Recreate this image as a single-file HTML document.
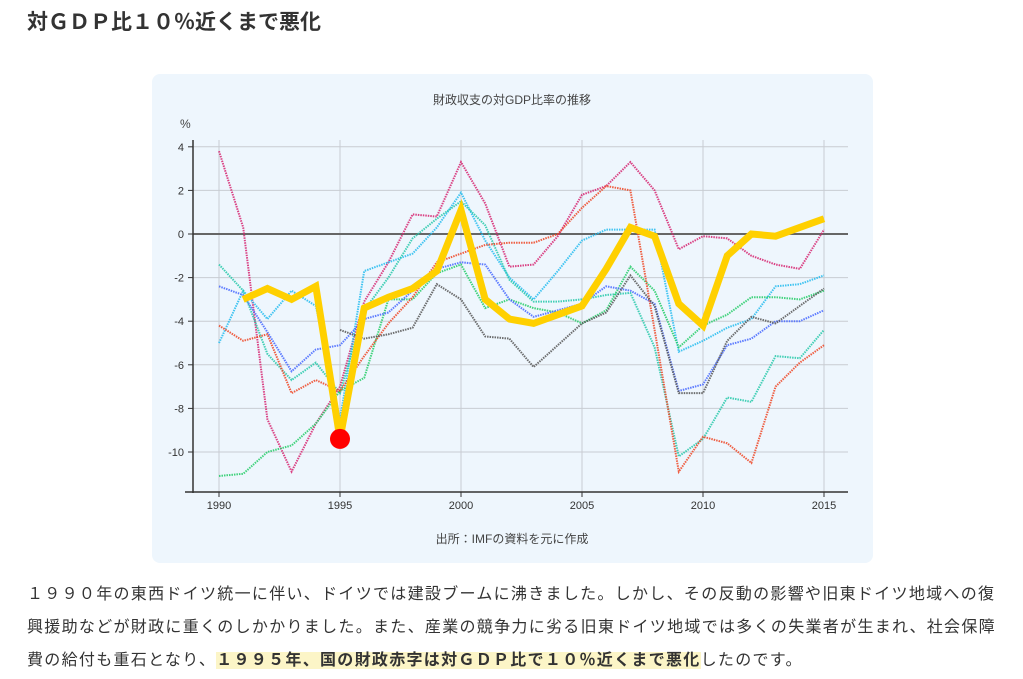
<!DOCTYPE html>
<html><head><meta charset="utf-8">
<style>
body{margin:0;background:#fff;width:1023px;height:679px;overflow:hidden;font-family:"Liberation Sans","Noto Sans CJK JP",sans-serif;color:#333}
h1{position:absolute;left:27px;top:6px;margin:0;font-size:21px;font-weight:bold;color:#333}
.box{position:absolute;left:152px;top:74px;width:721px;height:489px;background:#eef6fd;border-radius:8px}
p{position:absolute;left:27px;top:578px;width:1000px;margin:0;font-size:16px;line-height:33px;letter-spacing:1.3px;color:#333;white-space:nowrap}
.hl{background:#fcf5c7;font-weight:bold}
</style></head><body>
<h1>対ＧＤＰ比１０％近くまで悪化</h1>
<div class="box"></div>
<svg id="c" width="1023" height="679" style="position:absolute;left:0;top:0" font-family="Liberation Sans, Noto Sans CJK JP, sans-serif"></svg>
<p>１９９０年の東西ドイツ統一に伴い、ドイツでは建設ブームに沸きました。しかし、その反動の影響や旧東ドイツ地域への復<br>興援助などが財政に重くのしかかりました。また、産業の競争力に劣る旧東ドイツ地域では多くの失業者が生まれ、社会保障<br>費の給付も重石となり、<span class="hl">１９９５年、国の財政赤字は対ＧＤＰ比で１０％近くまで悪化</span>したのです。</p>
<script>
var X=function(y){return 219+(y-1990)*24.2},Y=function(v){return 234-v*21.8};
var s='';
s+='<text x="512" y="104" font-size="12" text-anchor="middle" fill="#444">財政収支の対GDP比率の推移</text>';
s+='<text x="180" y="128" font-size="12" fill="#444">%</text>';
s+='<text x="512" y="543" font-size="12" text-anchor="middle" fill="#444">出所：IMFの資料を元に作成</text>';
for(var v=4;v>=-10;v-=2){s+='<line x1="193" x2="848" y1="'+Y(v)+'" y2="'+Y(v)+'" stroke="#c8ccd2" stroke-width="1"/>';
s+='<line x1="188" x2="193" y1="'+Y(v)+'" y2="'+Y(v)+'" stroke="#333"/>';
s+='<text x="184" y="'+(Y(v)+4)+'" font-size="11" text-anchor="end" fill="#333">'+v+'</text>';}
for(var yr=1990;yr<=2015;yr+=5){s+='<line x1="'+X(yr)+'" x2="'+X(yr)+'" y1="140" y2="492" stroke="#c8ccd2"/>';
s+='<line x1="'+X(yr)+'" x2="'+X(yr)+'" y1="492" y2="497" stroke="#333"/>';
s+='<text x="'+X(yr)+'" y="509" font-size="11" text-anchor="middle" fill="#333">'+yr+'</text>';}
s+='<line x1="193" x2="848" y1="234" y2="234" stroke="#666" stroke-width="2"/>';
s+='<line x1="193" x2="193" y1="140" y2="493" stroke="#333" stroke-width="1.5"/>';
s+='<line x1="185" x2="848" y1="492" y2="492" stroke="#333" stroke-width="1.5"/>';
var S=[
['#d6226e',1990,[3.8,0.3,-8.5,-10.9,-8.7,-7.0,-3.1,-1.3,0.9,0.8,3.3,1.4,-1.5,-1.4,-0.1,1.8,2.2,3.3,2.0,-0.7,-0.1,-0.2,-1.0,-1.4,-1.6,0.2]],
['#22bbee',1990,[-5.0,-2.6,-3.9,-2.6,-3.3,-8.5,-1.7,-1.3,-0.9,0.3,1.9,-0.3,-2.0,-3.0,-1.7,-0.3,0.2,0.2,0.2,-5.4,-4.9,-4.3,-3.9,-2.4,-2.3,-1.9]],
['#22c8a8',1990,[-1.4,-2.6,-5.5,-6.7,-5.9,-7.3,-3.5,-2.0,-0.2,0.7,1.5,0.4,-2.1,-3.1,-3.1,-3.0,-2.8,-2.7,-5.2,-10.2,-9.4,-7.5,-7.7,-5.6,-5.7,-4.4]],
['#22cc66',1990,[-11.1,-11.0,-10.0,-9.7,-8.7,-7.2,-6.6,-3.0,-3.0,-1.8,-1.4,-3.4,-3.0,-3.4,-3.6,-4.1,-3.5,-1.5,-2.6,-5.2,-4.2,-3.7,-2.9,-2.9,-3.0,-2.6]],
['#4466ff',1990,[-2.4,-2.8,-4.5,-6.3,-5.3,-5.1,-3.9,-3.6,-2.6,-1.6,-1.3,-1.4,-3.0,-3.8,-3.5,-3.2,-2.4,-2.6,-3.2,-7.2,-6.9,-5.1,-4.8,-4.0,-4.0,-3.5]],
['#ee4422',1990,[-4.2,-4.9,-4.6,-7.3,-6.7,-7.2,-5.6,-4.1,-2.9,-1.3,-0.9,-0.5,-0.4,-0.4,0.0,1.2,2.2,2.0,-4.4,-10.9,-9.3,-9.6,-10.5,-7.0,-5.9,-5.1]],
['#555555',1995,[-4.4,-4.8,-4.6,-4.3,-2.3,-3.0,-4.7,-4.8,-6.1,-5.1,-4.1,-3.6,-1.9,-3.3,-7.3,-7.3,-4.9,-3.8,-4.1,-3.3,-2.5]]];
S.forEach(function(a){var p=a[2].map(function(v,i){return X(a[1]+i)+','+Y(v)}).join(' ');
s+='<polyline points="'+p+'" fill="none" stroke="'+a[0]+'" stroke-width="2" stroke-dasharray="1.5,1" opacity="0.85"/>';});
var g=[-3.0,-2.5,-3.0,-2.4,-9.4,-3.4,-2.9,-2.5,-1.7,1.1,-3.0,-3.9,-4.1,-3.7,-3.3,-1.6,0.3,-0.1,-3.2,-4.2,-1.0,0.0,-0.1,0.3,0.7];
s+='<polyline points="'+g.map(function(v,i){return X(1991+i)+','+Y(v)}).join(' ')+'" fill="none" stroke="#ffd000" stroke-width="7" stroke-linejoin="miter"/>';
s+='<circle cx="'+X(1995)+'" cy="'+Y(-9.4)+'" r="10" fill="#ff0000"/>';
document.getElementById('c').innerHTML=s;
</script>
</body></html>
